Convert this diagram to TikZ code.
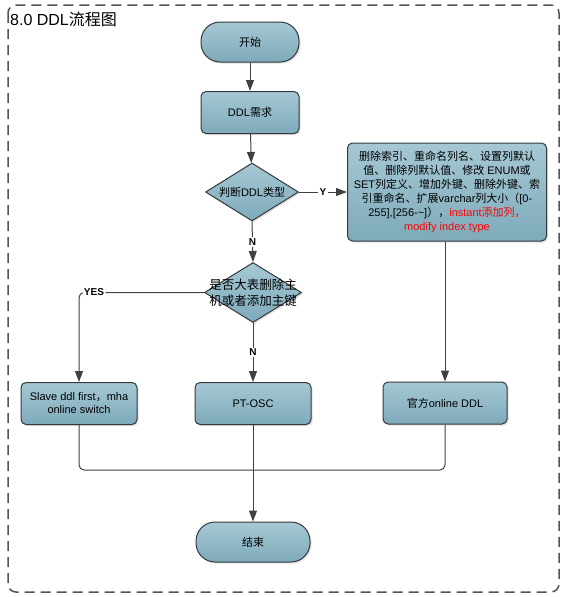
\documentclass[tikz,border=0pt]{standalone}
\usepackage{fontspec}
\setmainfont{Liberation Sans}
\newfontfamily\cjk{Noto Sans CJK SC}
\newcommand\zh[1]{{\cjk #1}}
\usetikzlibrary{shapes.geometric,arrows.meta,shadows}
\definecolor{boxtop}{RGB}{166,200,212}
\definecolor{boxbot}{RGB}{126,170,186}
\definecolor{edge}{RGB}{52,58,62}
\definecolor{wire}{RGB}{64,64,64}
\definecolor{frame}{RGB}{85,85,85}
\tikzset{
  boxbase/.style={draw=edge,line width=1pt,top color=boxtop,bottom color=boxbot,
    drop shadow={shadow xshift=1.5pt,shadow yshift=-1.5pt,fill=black!25},
    font=\fontsize{11}{13}\selectfont,align=center,inner sep=2pt},
  terminal/.style={boxbase,rounded corners=19pt,minimum width=98pt,minimum height=40pt},
  process/.style={boxbase,rounded corners=5pt,minimum height=42pt},
  decision/.style={boxbase,diamond,aspect=1.6,inner sep=0pt},
  flow/.style={draw=wire,line width=1pt,-{Triangle[length=11pt,width=8pt]}},
  link/.style={draw=wire,line width=1pt,rounded corners=5pt},
  tag/.style={fill=white,inner sep=1.5pt,font=\bfseries\fontsize{10}{12}\selectfont}
}
\begin{document}
\begin{tikzpicture}[x=1pt,y=-1pt]
\useasboundingbox (0,0) rectangle (564,597);
\draw[frame,line width=1.5pt,dash pattern=on 10pt off 6pt,rounded corners=8pt] (8,5) rectangle (559,592);
\node[anchor=base west,inner sep=0pt,font=\fontsize{16}{18}\selectfont] (title) at (10,25) {8.0 DDL\zh{流程图}};
% main column
\node[terminal] (start) at (250,42) {\zh{开始}};
\node[process,minimum width=98pt] (need) at (250,112.5) {DDL\zh{需求}};
\node[decision,minimum width=93pt,minimum height=58pt] (q1) at (252,192) {\zh{判断}DDL\zh{类型}};
\node[process,minimum width=199pt,minimum height=98pt,font=\fontsize{11}{14}\selectfont] (alter) at (447,192)
  {\zh{删除索引、重命名列名、设置列默认}\\\zh{值、删除列默认值、修改} ENUM\zh{或}\\SET\zh{列定义、增加外键、删除外键、索}\\\zh{引重命名、扩展}varchar\zh{列大小（}[0-\\255],[256-\textasciitilde]\zh{），}\textcolor{red}{instant\zh{添加列，}}\\\textcolor{red}{modify index type}};
\node[decision,minimum width=97pt,minimum height=60pt,font=\fontsize{12.5}{16}\selectfont\cjk] (q2) at (253,292.5)
  {\makebox[0pt]{是否大表删除主}\\\makebox[0pt]{机或者添加主键}};
% three ways
\node[process,minimum width=116pt] (slave) at (79,403.5) {Slave ddl first\zh{，}mha\\online switch};
\node[process,minimum width=116pt] (ptosc) at (253,403.5) {PT-OSC};
\node[process,minimum width=124pt] (online) at (445,403) {\zh{官方}online DDL};
\node[terminal,minimum width=114pt] (end) at (253,542) {\zh{结束}};
\coordinate (merge) at (253,470);
% connectors
\draw[flow] (start) -- (need);
\draw[flow] (need) -- (q1);
\draw[flow] (q1.east) -- node[tag] {Y} (alter.west);
\draw[flow] (q1.south) -- node[tag] {N} (q2.north);
\draw[flow,rounded corners=5pt] (q2.west) -| node[tag,pos=0.44] {YES} (slave.north);
\draw[flow] (q2.south) -- node[tag] {N} (ptosc.north);
\draw[flow] (alter.south -| online.north) -- (online.north);
\draw[link] (slave.south) |- (merge) -| (online.south);
\draw[flow] (ptosc.south) -- (end.north);
\end{tikzpicture}
\end{document}
